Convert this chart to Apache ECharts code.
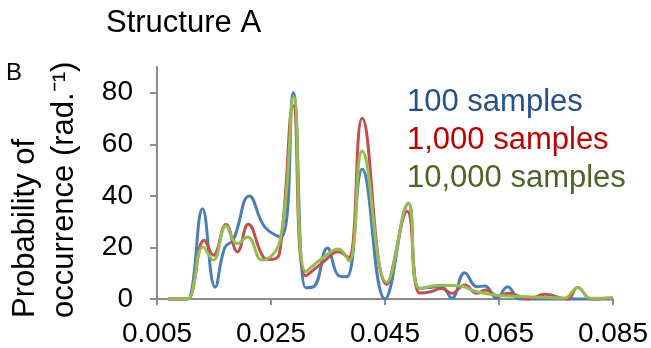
<!DOCTYPE html>
<html>
<head>
<meta charset="utf-8">
<script src="https://cdn.jsdelivr.net/npm/echarts@6/dist/echarts.min.js"></script>
<style>
html,body{margin:0;padding:0;background:#fff;}
#chart{width:651px;height:348px;}
</style>
</head>
<body>
<div id="chart"></div>
<script>
// Series names
var seriesNames = ['100 samples', '1,000 samples', '10,000 samples'];
// Tick values on the axes
var xTicks = [0.005, 0.025, 0.045, 0.065, 0.085];
var yTicks = [0, 20, 40, 60, 80];

// 100 samples: x (rad) and probability values
var x100 = [0.0070, 0.0100, 0.0108, 0.0130, 0.0152, 0.0169, 0.0184, 0.0212, 0.0239, 0.0268, 0.0289, 0.0311, 0.0325, 0.0349, 0.0369, 0.0383, 0.0410, 0.0450, 0.0491, 0.0511, 0.0549, 0.0567, 0.0590, 0.0611, 0.0625, 0.0646, 0.0665, 0.0687, 0.0750, 0.0850];
var y100 = [0, 0, 0.5, 35, 4.6, 20, 23, 40, 28, 24, 80, 4.4, 4.8, 19.8, 9, 8.6, 50.3, 0, 37, 4.1, 4.8, 0.3, 10.2, 4.8, 5, 0.3, 4.8, 0, 0, 0];

// 1,000 samples
var x1000 = [0.0070, 0.0100, 0.0108, 0.0133, 0.0149, 0.0171, 0.0191, 0.0210, 0.0236, 0.0249, 0.0265, 0.0289, 0.0311, 0.0340, 0.0368, 0.0386, 0.0410, 0.0453, 0.0489, 0.0511, 0.0530, 0.0549, 0.0567, 0.0590, 0.0611, 0.0627, 0.0648, 0.0667, 0.0702, 0.0731, 0.0770, 0.0788, 0.0812, 0.0850];
var y1000 = [0, 0, 0.5, 22.8, 17, 28.9, 18.3, 29, 16.4, 15.3, 17.7, 75, 9, 14, 18.3, 16, 70.1, 5.7, 34, 2.3, 2.8, 4.1, 2.2, 5.4, 2.2, 3.5, 1.2, 2.2, 0, 1.8, 0, 4.5, 0, 0.5];

// 10,000 samples
var x10000 = [0.0070, 0.0100, 0.0108, 0.0131, 0.0149, 0.0171, 0.0191, 0.0209, 0.0234, 0.0266, 0.0290, 0.0311, 0.0340, 0.0368, 0.0387, 0.0410, 0.0453, 0.0491, 0.0511, 0.0549, 0.0582, 0.0611, 0.0646, 0.0700, 0.0765, 0.0788, 0.0810, 0.0850];
var y10000 = [0, 0, 0.5, 20.2, 15.1, 28.4, 21.5, 24.1, 15.1, 22.8, 78.3, 10.6, 15.8, 19.4, 14.8, 57.4, 6.5, 37.2, 4.1, 5.3, 5, 2.8, 1.5, 0.9, 0.4, 4.5, 0.3, 0.5];

var lineColors = ['#4a7ebb', '#c0504d', '#98bb53'];
var textColors = ['#24508e', '#c00000', '#4f6228'];

function pairs(xs, ys) {
  return xs.map(function (x, i) { return [x, ys[i]]; });
}
var allData = [pairs(x100, y100), pairs(x1000, y1000), pairs(x10000, y10000)];

var FONT = '"Liberation Sans", Arial, sans-serif';
var chart = echarts.init(document.getElementById('chart'), null, {renderer: 'canvas'});

var option = {
  backgroundColor: '#ffffff',
  animation: false,
  title: [
    {text: 'Structure A', left: 106, top: 8, padding: 0,
     textStyle: {fontFamily: FONT, fontSize: 31, fontWeight: 'normal', color: '#000', lineHeight: 31}},
    {text: 'B', left: 6, top: 61, padding: 0,
     textStyle: {fontFamily: FONT, fontSize: 24, fontWeight: 'normal', color: '#000', lineHeight: 24}}
  ],
  legend: {
    orient: 'vertical',
    left: 402,
    top: 87,
    padding: 0,
    itemGap: 7,
    itemWidth: 0,
    itemHeight: 14,
    icon: 'none',
    selectedMode: false,
    data: seriesNames.map(function (n, i) {
      return {name: n, icon: 'none', textStyle: {color: textColors[i], fontSize: 31, fontFamily: FONT}};
    }),
    textStyle: {fontFamily: FONT, fontSize: 31}
  },
  grid: {left: 157, right: 38, top: 67, bottom: 49, containLabel: false},
  xAxis: {
    type: 'value',
    min: xTicks[0],
    max: xTicks[xTicks.length - 1],
    interval: 0.02,
    axisLine: {show: true, onZero: true, lineStyle: {color: '#8c8c8c', width: 2}},
    axisTick: {show: true, length: 6, lineStyle: {color: '#8c8c8c', width: 2}},
    splitLine: {show: false},
    axisLabel: {
      margin: 21, color: '#000', fontFamily: FONT, fontSize: 28,
      showMinLabel: true, showMaxLabel: true,
      formatter: function (v) { return v.toFixed(3); }
    }
  },
  yAxis: {
    type: 'value',
    min: 0,
    max: 90,
    interval: 20,
    axisLine: {show: true, lineStyle: {color: '#8c8c8c', width: 2}},
    axisTick: {show: true, length: 7, lineStyle: {color: '#8c8c8c', width: 2}},
    splitLine: {show: false},
    axisLabel: {
      margin: 24, color: '#000', fontFamily: FONT, fontSize: 28,
      showMaxLabel: false,
      formatter: function (v) { return yTicks.indexOf(v) >= 0 ? String(v) : ''; }
    }
  },
  graphic: [{
    type: 'text',
    x: 6,
    y: 318,
    rotation: Math.PI / 2,
    style: {
      text: 'Probability of\noccurrence (rad.\u207B\u00B9)',
      font: '31px ' + FONT,
      fill: '#000',
      textAlign: 'left',
      textVerticalAlign: 'top',
      lineHeight: 39
    }
  }],
  series: allData.map(function (d, i) {
    return {
      name: seriesNames[i],
      type: 'line',
      data: d,
      smooth: 0.45,
      showSymbol: false,
      clip: false,
      lineStyle: {color: lineColors[i], width: 3},
      itemStyle: {color: lineColors[i]},
      z: 2 + i
    };
  })
};
chart.setOption(option);
</script>
</body>
</html>
